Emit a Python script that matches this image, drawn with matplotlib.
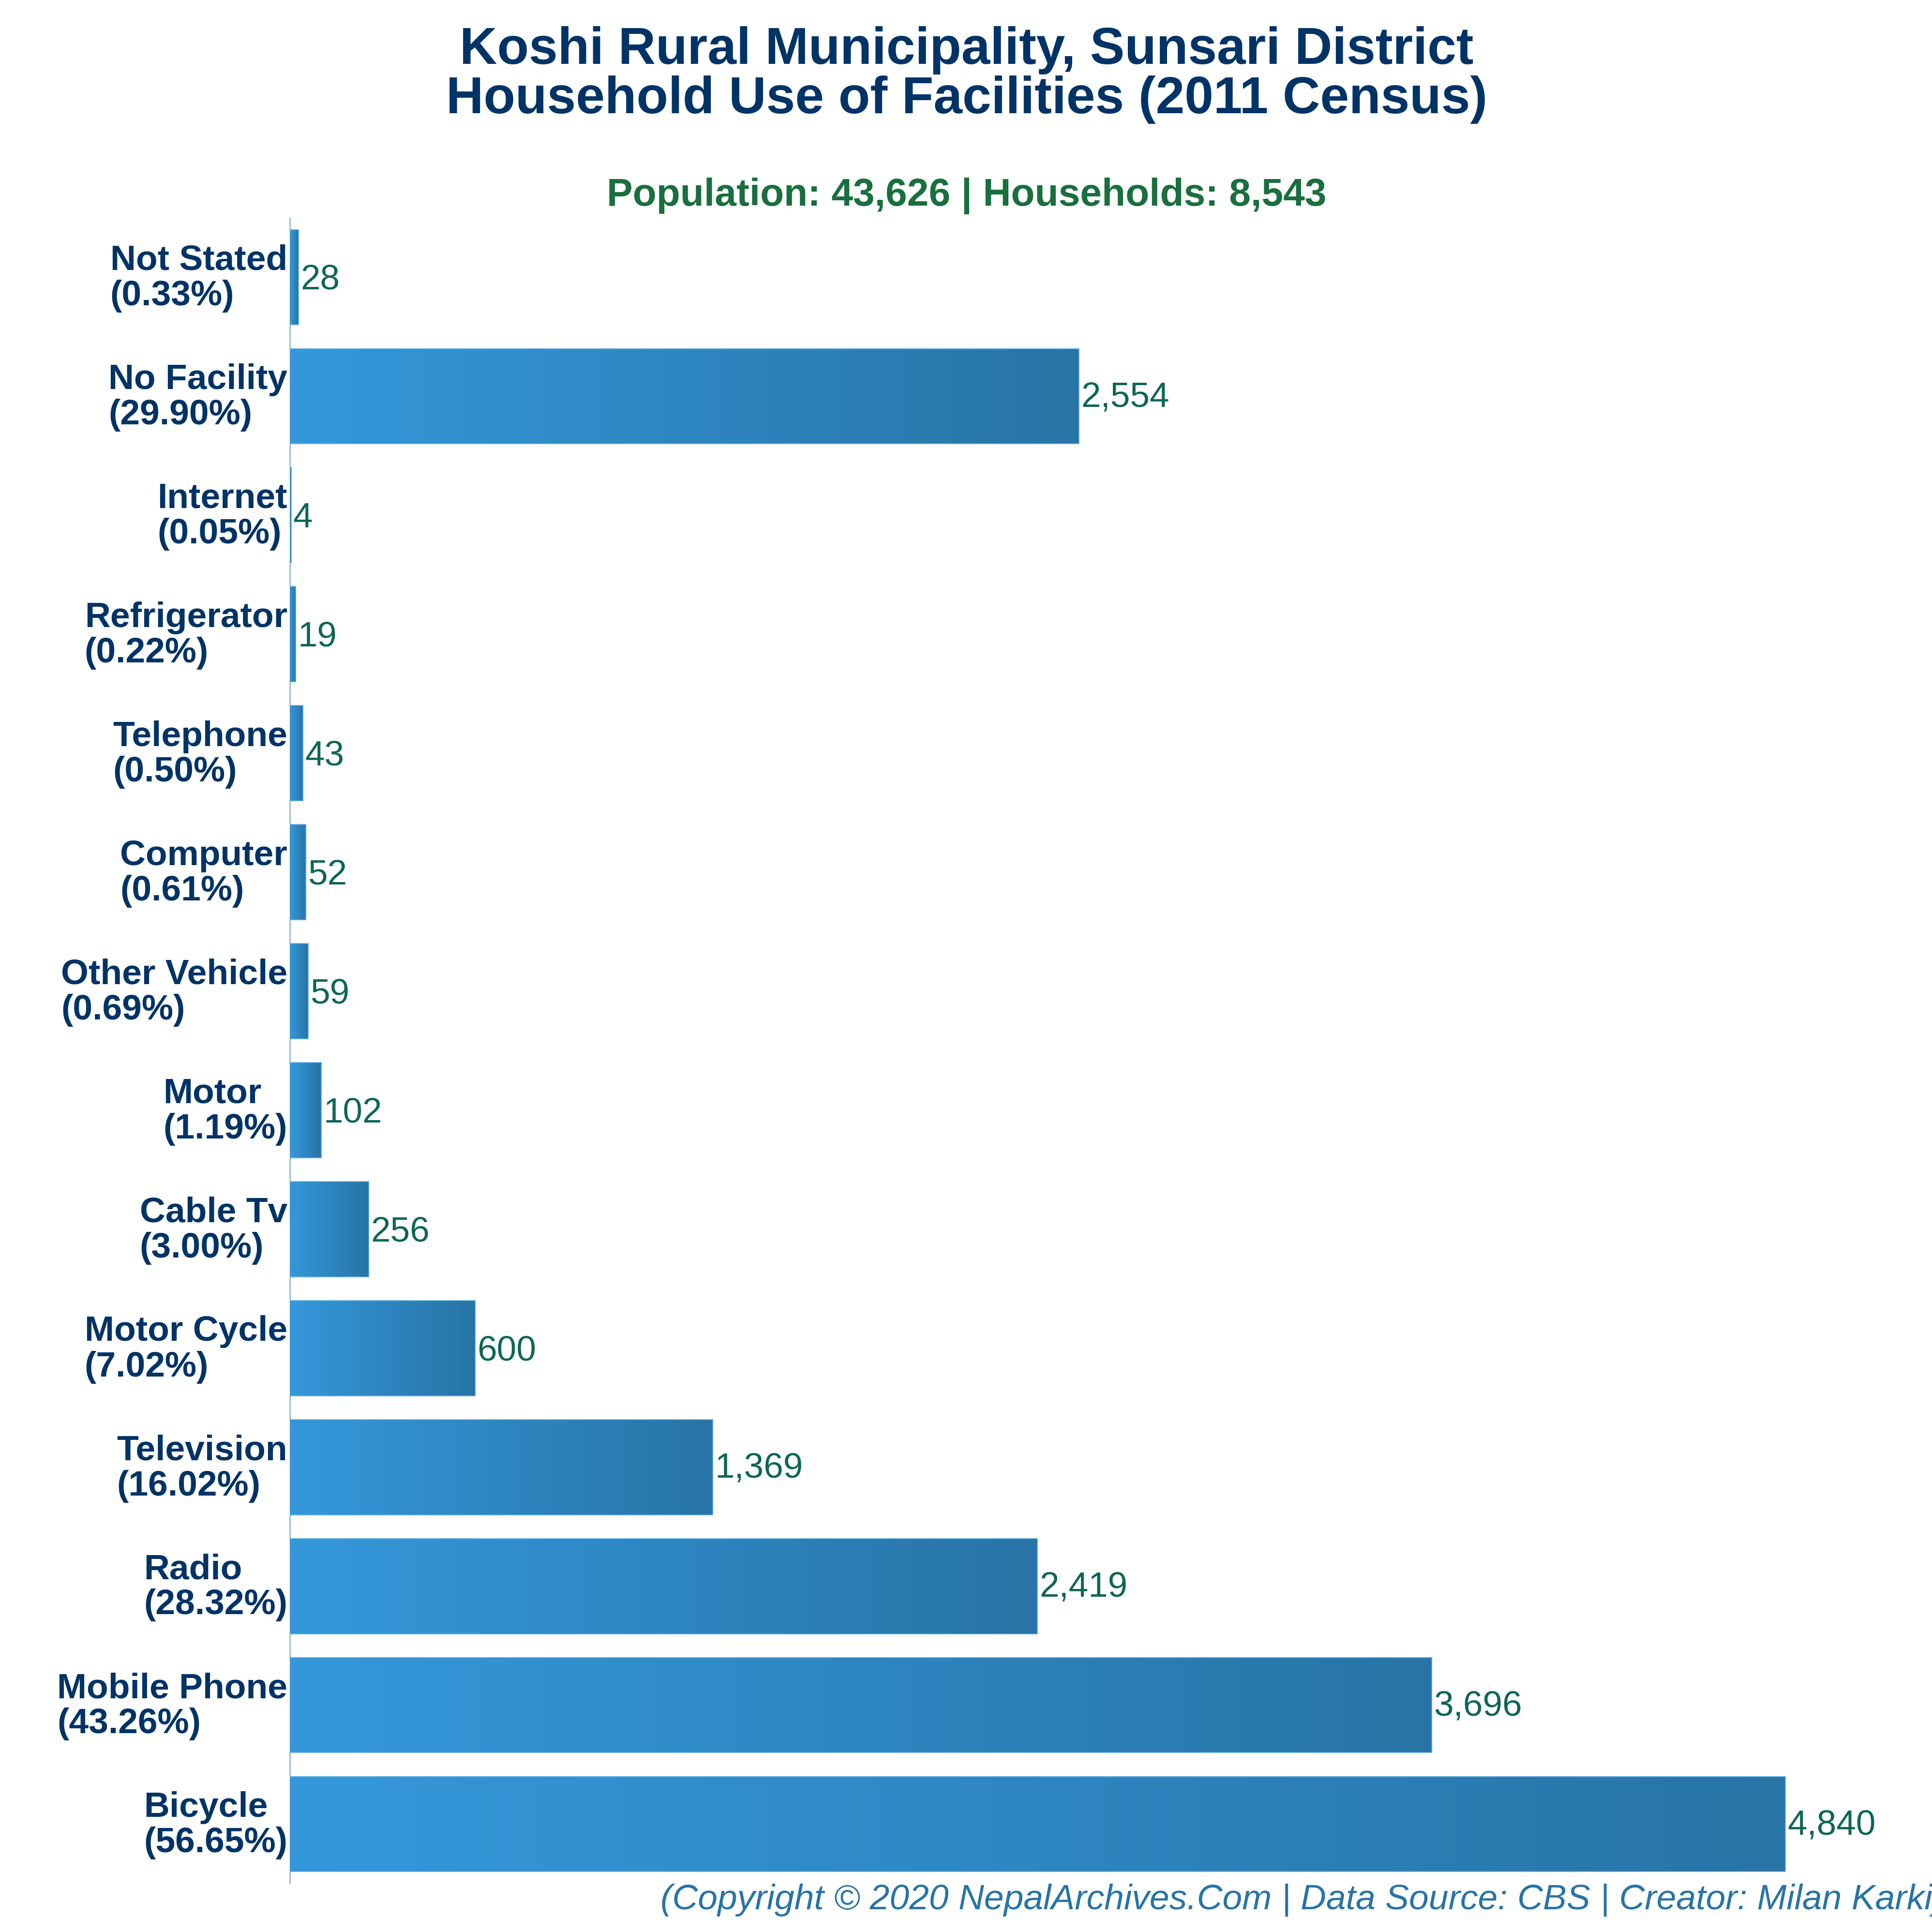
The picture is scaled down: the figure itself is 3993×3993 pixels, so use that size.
import numpy as np
import matplotlib
matplotlib.use('Agg')
import matplotlib.pyplot as plt
from matplotlib.colors import LinearSegmentedColormap
from matplotlib.transforms import ScaledTranslation

plt.rcParams['font.family'] = ['Liberation Sans', 'DejaVu Sans']

# bottom to top, same order as the chart
facilities = ['Bicycle', 'Mobile Phone', 'Radio', 'Television', 'Motor Cycle', 'Cable Tv', 'Motor',
              'Other Vehicle', 'Computer', 'Telephone', 'Refrigerator', 'Internet', 'No Facility', 'Not Stated']
households = [4840, 3696, 2419, 1369, 600, 256, 102, 59, 52, 43, 19, 4, 2554, 28]
percents = [56.65, 43.26, 28.32, 16.02, 7.02, 3.00, 1.19, 0.69, 0.61, 0.50, 0.22, 0.05, 29.90, 0.33]

title = 'Koshi Rural Municipality, Sunsari District\nHousehold Use of Facilities (2011 Census)'
subtitle = 'Population: 43,626 | Households: 8,543'
footer = '(Copyright © 2020 NepalArchives.Com | Data Source: CBS | Creator: Milan Karki)'

PX = 3993
fig = plt.figure(figsize=(PX / 300, PX / 300), dpi=300, facecolor='white')

# axes box measured in pixels of the reference
left, right, top, bottom = 599, 3900, 450, 3893
ax = fig.add_axes([left / PX, 1 - bottom / PX, (right - left) / PX, (bottom - top) / PX])

cmap = LinearSegmentedColormap.from_list('bar', ['#3498DB', '#2874A6'])
gradient = np.linspace(0, 1, 256).reshape(1, -1)

ypos = np.arange(len(facilities))
bars = ax.barh(ypos, households, height=0.8, facecolor='none', edgecolor='#5DADE2', linewidth=0.4, zorder=3)

for bar, value in zip(bars, households):
    ax.imshow(gradient, cmap=cmap, aspect='auto', zorder=2,
              extent=[0, value, bar.get_y(), bar.get_y() + bar.get_height()])
    # labels with a comma sit a little higher in the original
    yoff = -5.2 if value >= 1000 else -6.0
    ax.annotate(f'{value:,}', (value, bar.get_y() + bar.get_height() / 2), xytext=(1.0, yoff),
                textcoords='offset points', va='baseline', ha='left', fontsize=17.5, color='#0E6655')

ax.set_xlim(0, (right - left) / 0.6386)
ax.set_ylim(-0.5, len(facilities) - 0.5)

ticklabels = [f'{name}\n({pct:.2f}%)' for name, pct in zip(facilities, percents)]
ax.set_yticks(ypos)
ax.set_yticklabels(ticklabels, fontsize=17.6, fontweight='bold', color='#003366',
                   ha='right', multialignment='left', linespacing=1.1)
ax.tick_params(axis='y', length=0, pad=1.2)
ax.set_xticks([])

# nudge the two-line labels up
shift = ScaledTranslation(0, 1.8 / 72, fig.dpi_scale_trans)
for lab in ax.get_yticklabels():
    lab.set_transform(lab.get_transform() + shift)

for side in ['top', 'right', 'bottom']:
    ax.spines[side].set_visible(False)
ax.spines['left'].set_color('#2E6DA4')
ax.spines['left'].set_linewidth(0.3)

fig.text(1998 / PX, 1 - 155 / PX, title, ha='center', va='center', fontsize=25.75, fontweight='bold',
         color='#003366', linespacing=1.015)
fig.text(1998 / PX, 1 - 405 / PX, subtitle, ha='center', va='center', fontsize=19.3, fontweight='bold',
         color='#196F3D')
fig.text(1365 / PX, 1 - 3927 / PX, footer, ha='left', va='center', fontsize=17.6, fontstyle='italic',
         color='#2874A6')

fig.savefig('out.png', dpi=300)
plt.close(fig)
